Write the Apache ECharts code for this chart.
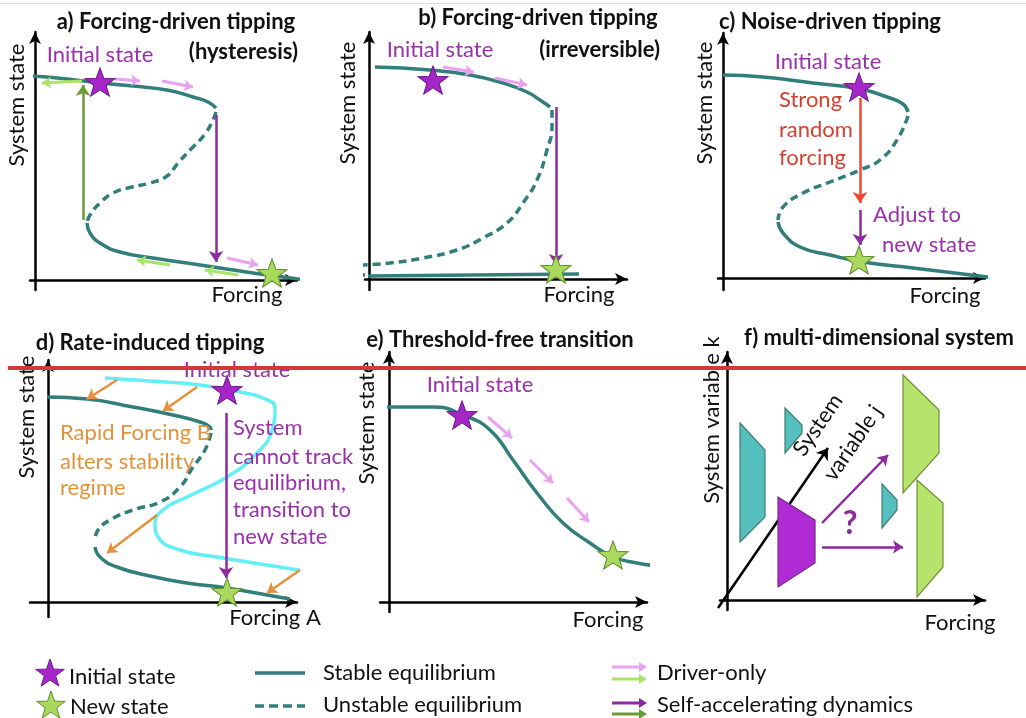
<!DOCTYPE html>
<html>
<head>
<meta charset="utf-8">
<script src="https://cdn.jsdelivr.net/npm/echarts@6/dist/echarts.min.js"></script>
<style>
  html, body { margin: 0; padding: 0; background: #fff; }
  #chart { width: 1026px; height: 718px; }
</style>
</head>
<body>
<div id="chart"></div>
<script>

// a) hysteresis
const aStableTop = [[-2,204],[32,201],[65,197],[98,194],[132,190],[158,183],[173,178],[181,172]];
const aUnstable = [[181,168],[178,160],[170,146],[157,132],[143,117],[132,104],[115,97],[97,93],[78,87],[65,77],[55,65],[52,57]];
const aStableLow = [[52,57],[55,47],[65,37],[85,28],[118,22],[152,17],[185,12],[218,7],[248,3],[270,0]];
const aInitial = [[65,198]];
const aNew = [[237,7]];
const aDriverFwd = [[[80,201],[105,199]], [[127,199],[158,193]], [[192,22],[223,15]]];
const aDriverBack = [[[47,199],[7,197]], [[135,15],[102,20]], [[203,5],[170,10]]];
const aSelfFwd = [[[181,165],[181,18]]];
const aSelfBack = [[[48,60],[48,195]]];

// b) irreversible
const bStableTop = [[6,212],[61,209],[101,204],[134,196],[158,187],[171,179],[181,172]];
const bUnstable = [[183,169],[183,152],[178,129],[168,99],[154,76],[138,56],[114,41],[88,29],[54,21],[21,16],[-6,14]];
const bUnstableTail = [[-6,14],[-28,13]];
const bStableLow = [[-1,3],[210,5]];
const bStableTail = [[-28,4],[-3,4]];
const bInitial = [[64,199]];
const bNew = [[187,10]];
const bDriverFwd = [[[74,212],[105,207]], [[126,201],[158,194]]];
const bSelfFwd = [[[187,172],[187,14]]];

// c) noise-driven
const cStableTop = [[0,203],[40,201],[90,195],[137,189],[164,181],[180,174],[185,166]];
const cUnstable = [[185,162],[174,138],[157,118],[137,108],[107,96],[80,85],[60,71],[55,58]];
const cStableLow = [[55,56],[60,45],[77,31],[107,23],[140,16],[190,10],[240,4],[272,0]];
const cInitial = [[136,191]];
const cNew = [[136,18]];
const cNoise = [[[137,180],[137,75]]];
const cSelfFwd = [[[137,68],[137,33]]];

// d) rate-induced
const dStableTop = [[-1,205],[39,203],[85,195],[125,187],[152,180],[162,175],[163,172]];
const dUnstable = [[163,169],[157,152],[145,135],[132,115],[112,100],[85,92],[62,82],[50,72],[47,62]];
const dStableLow = [[47,55],[52,45],[69,35],[102,26],[139,19],[179,14],[219,7],[242,3]];
const dShifted = [[57,224],[102,221],[152,217],[192,210],[215,204],[227,194],[224,172],[209,149],[179,125],[139,105],[115,92],[107,79],[110,65],[132,52],[169,45],[219,37],[269,29],[310,22]];
const dRateArrows = [[[69,222],[39,203]], [[149,215],[115,191]], [[109,87],[59,49]], [[252,32],[219,9]]];
const dInitial = [[179,212]];
const dNew = [[179,10]];
const dSelfFwd = [[[178,189],[178,24]]];

// e) threshold-free
const eStable = [[-2,195],[44,195],[74,187],[101,172],[124,142],[148,109],[174,79],[201,59],[224,45],[248,39],[269,36]];
const eInitial = [[73,187]];
const eNew = [[224,47]];
const eDriverFwd = [[[99,185],[123,164]], [[141,142],[164,119]], [[178,104],[200,80]]];

// f) multi-dimensional
const fAxisJ = [[[-9,-8],[101,152]]];
const fInitialShape = [[[51,103],[88,80],[88,37],[51,13]]];
const fOtherStates = [
  [[13,177],[38,150],[38,83],[13,58]],
  [[58,192],[75,175],[75,167],[58,147]],
  [[155,116],[170,100],[170,90],[155,72]]
];
const fNewStates = [
  [[176,225],[212,190],[212,147],[176,107]],
  [[190,120],[216,97],[216,33],[190,3]]
];
const fPaths = [[[95,77],[161,145]], [[95,53],[176,53]]];

const TEAL = '#327e7a';
const PURPLE = '#8c2a9e';
const PINK = '#e9a2f2';
const LGREEN = '#a8e46a';
const DGREEN = '#6c9a34';
const ORANGE = '#e3923c';
const CYAN = '#62eff6';
const RED = '#f0482e';
const TXT_PURPLE = '#9932aa';

function starPts(cx, cy, R, r) {
  const pts = [];
  for (let i = 0; i < 10; i++) {
    const a = -Math.PI / 2 + i * Math.PI / 5;
    const rad = i % 2 ? r : R;
    pts.push([cx + rad * Math.cos(a), cy + rad * Math.sin(a)]);
  }
  return pts;
}
const STAR = 'path://' + starPts(0, 0, 10, 4.1).map((p, i) => (i ? 'L' : 'M') + p[0].toFixed(2) + ' ' + p[1].toFixed(2)).join(' ') + ' Z';

const panels = [
  { ox: 35, oy: 280, x: [-5, 262], y: [-10, 248] },
  { ox: 369, oy: 279, x: [-4, 258], y: [-11, 247] },
  { ox: 723, oy: 278, x: [-5, 262], y: [-12, 245] },
  { ox: 48, oy: 602, x: [-18, 249], y: [-15, 242] },
  { ox: 389, oy: 602, x: [-9, 258], y: [-10, 250] },
  { ox: 727, oy: 600, x: [-7, 258], y: [-10, 248] }
];

const grid = [], xAxis = [], yAxis = [];
panels.forEach((p, i) => {
  grid.push({ left: p.ox + p.x[0], top: p.oy - p.y[1], width: p.x[1] - p.x[0], height: p.y[1] - p.y[0] });
  const ax = (min, max) => ({
    gridIndex: i, type: 'value', min, max,
    axisLine: { onZero: true, symbol: ['none', 'arrow'], symbolSize: [9, 12], lineStyle: { color: '#000', width: 2.5 } },
    axisTick: { show: false }, axisLabel: { show: false }, splitLine: { show: false }
  });
  xAxis.push(ax(p.x[0], p.x[1]));
  yAxis.push(ax(p.y[0], p.y[1]));
});

function curve(gi, data, color, type, width) {
  return {
    type: 'line', xAxisIndex: gi, yAxisIndex: gi, data, symbol: 'none', smooth: 0.5, clip: false, silent: true, z: 3,
    lineStyle: { color, width: width || 3.5, type: type || 'solid' }
  };
}
function stars(gi, data, fill, stroke) {
  return {
    type: 'scatter', xAxisIndex: gi, yAxisIndex: gi, data, symbol: STAR, symbolSize: [30, 28], clip: false, silent: true, z: 6,
    itemStyle: { color: fill, borderColor: stroke, borderWidth: 1, opacity: 1 }
  };
}
function arrows(gi, list, color, width, size) {
  return {
    type: 'lines', coordinateSystem: 'cartesian2d', xAxisIndex: gi, yAxisIndex: gi, clip: false, silent: true, z: 4,
    symbol: ['none', 'arrow'], symbolSize: size || 10,
    lineStyle: { color, width: width || 3, opacity: 1, curveness: 0 },
    data: list.map(c => ({ coords: c }))
  };
}
function shapes(gi, list, fill, stroke) {
  return {
    type: 'custom', coordinateSystem: 'cartesian2d', xAxisIndex: gi, yAxisIndex: gi, silent: true, z: 5,
    data: list.map((s, i) => [i, 0]),
    renderItem: (params, api) => ({
      type: 'polygon',
      shape: { points: list[api.value(0)].map(pt => api.coord(pt)) },
      style: { fill, stroke, lineWidth: 1.2 }
    })
  };
}

const series = [
  curve(0, aStableTop, TEAL), curve(0, aUnstable, TEAL, [8, 5]), curve(0, aStableLow, TEAL),
  arrows(0, aDriverFwd, PINK, 3, 9), arrows(0, aDriverBack, LGREEN, 3, 9),
  arrows(0, aSelfFwd, PURPLE, 2.5, 11), arrows(0, aSelfBack, DGREEN, 2.5, 11),
  stars(0, aInitial, '#a626c9', '#6f1a8a'), stars(0, aNew, '#a9da5e', '#5e8e2c'),

  curve(1, bStableTop, TEAL), curve(1, bUnstable, TEAL, [8, 5]), curve(1, bUnstableTail, TEAL, [3, 4]),
  curve(1, bStableLow, TEAL), curve(1, bStableTail, TEAL, [3, 4]),
  arrows(1, bDriverFwd, PINK, 3, 9), arrows(1, bSelfFwd, PURPLE, 2.5, 11),
  stars(1, bInitial, '#a626c9', '#6f1a8a'), stars(1, bNew, '#a9da5e', '#5e8e2c'),

  curve(2, cStableTop, TEAL), curve(2, cUnstable, TEAL, [8, 5]), curve(2, cStableLow, TEAL),
  arrows(2, cNoise, RED, 2.5, 11), arrows(2, cSelfFwd, PURPLE, 2.5, 11),
  stars(2, cInitial, '#a626c9', '#6f1a8a'), stars(2, cNew, '#a9da5e', '#5e8e2c'),

  curve(3, dShifted, CYAN, 'solid', 3.5),
  curve(3, dStableTop, TEAL), curve(3, dUnstable, TEAL, [8, 5]), curve(3, dStableLow, TEAL),
  arrows(3, dRateArrows, ORANGE, 2.5, 10), arrows(3, dSelfFwd, PURPLE, 2.5, 11),
  stars(3, dInitial, '#a626c9', '#6f1a8a'), stars(3, dNew, '#a9da5e', '#5e8e2c'),

  curve(4, eStable, TEAL),
  arrows(4, eDriverFwd, PINK, 3, 9),
  stars(4, eInitial, '#a626c9', '#6f1a8a'), stars(4, eNew, '#a9da5e', '#5e8e2c'),

  arrows(5, fAxisJ, '#000', 2.5, 11),
  shapes(5, fOtherStates, '#55bfbf', '#3d7f6e'),
  shapes(5, fNewStates, '#b6e36b', '#6f8f35'),
  shapes(5, fInitialShape, '#b02bd4', '#7a2a8a'),
  arrows(5, fPaths, PURPLE, 2.5, 10)
];

const F = 'Lato, "Open Sans", sans-serif';
function txt(text, x, y, o) {
  o = o || {};
  return {
    type: 'text', x, y, rotation: o.rot || 0, z: 50, silent: true,
    style: {
      text, x: 0, y: 0, fill: o.color || '#111',
      font: (o.bold ? 'bold ' : '') + (o.size || 22) + 'px ' + F,
      textAlign: o.align || 'center', textVerticalAlign: 'middle',
      align: o.align || 'center', verticalAlign: 'middle'
    }
  };
}
const V = Math.PI / 2;
const texts = [
  // titles
  txt('a) Forcing-driven tipping', 176, 22, { bold: true }),
  txt('(hysteresis)', 298, 52, { bold: true, align: 'right' }),
  txt('b) Forcing-driven tipping', 538, 18, { bold: true }),
  txt('(irreversible)', 660, 50, { bold: true, align: 'right' }),
  txt('c) Noise-driven tipping', 830, 22, { bold: true }),
  txt('d) Rate-induced tipping', 150, 343, { bold: true }),
  txt('e) Threshold-free transition', 500, 340, { bold: true }),
  txt('f) multi-dimensional system', 879, 338, { bold: true }),
  // axis names
  txt('System state', 17, 105, { rot: V }),
  txt('System state', 348, 103, { rot: V }),
  txt('System state', 705, 103, { rot: V }),
  txt('System state', 27, 417, { rot: V }),
  txt('System state', 367, 423, { rot: V }),
  txt('System variable k', 712, 420, { rot: V }),
  txt('Forcing', 247, 295), txt('Forcing', 579, 295), txt('Forcing', 945, 296),
  txt('Forcing A', 275, 618), txt('Forcing', 608, 620), txt('Forcing', 960, 623),
  // annotations
  txt('Initial state', 100, 55, { color: TXT_PURPLE }),
  txt('Initial state', 440, 50, { color: TXT_PURPLE }),
  txt('Initial state', 828, 62, { color: TXT_PURPLE }),
  txt('Initial state', 237, 370, { color: TXT_PURPLE }),
  txt('Initial state', 480, 385, { color: TXT_PURPLE }),
  txt('Strong', 779, 100, { color: '#d4402e', align: 'left' }),
  txt('random', 779, 130, { color: '#d4402e', align: 'left' }),
  txt('forcing', 779, 158, { color: '#d4402e', align: 'left' }),
  txt('Adjust to', 873, 215, { color: TXT_PURPLE, align: 'left' }),
  txt('new state', 882, 245, { color: TXT_PURPLE, align: 'left' }),
  txt('Rapid Forcing B', 60, 433, { color: ORANGE, align: 'left' }),
  txt('alters stability', 60, 462, { color: ORANGE, align: 'left' }),
  txt('regime', 60, 488, { color: ORANGE, align: 'left' }),
  txt('System', 233, 428, { color: TXT_PURPLE, align: 'left' }),
  txt('cannot track', 233, 457, { color: TXT_PURPLE, align: 'left' }),
  txt('equilibrium,', 233, 483, { color: TXT_PURPLE, align: 'left' }),
  txt('transition to', 233, 510, { color: TXT_PURPLE, align: 'left' }),
  txt('new state', 233, 537, { color: TXT_PURPLE, align: 'left' }),
  txt('?', 850, 524, { color: PURPLE, bold: true, size: 32 }),
  txt('System', 818, 425, { rot: 0.968 }),
  txt('variable j', 853, 443, { rot: 0.968 })
];

// legend
function legArrow(x1, x2, y, color) {
  return [
    { type: 'line', z: 50, silent: true, shape: { x1, y1: y, x2: x2 - 6, y2: y }, style: { stroke: color, lineWidth: 3 } },
    { type: 'polygon', z: 50, silent: true, shape: { points: [[x2 - 8, y - 5], [x2, y], [x2 - 8, y + 5]] }, style: { fill: color } }
  ];
}
const legend = [
  { type: 'polygon', z: 50, silent: true, shape: { points: starPts(50, 674, 15, 6) }, style: { fill: '#a626c9', stroke: '#6f1a8a', lineWidth: 1 } },
  { type: 'polygon', z: 50, silent: true, shape: { points: starPts(51, 706, 15, 6) }, style: { fill: '#a9da5e', stroke: '#5e8e2c', lineWidth: 1 } },
  txt('Initial state', 69, 677, { align: 'left' }),
  txt('New state', 70, 707, { align: 'left' }),
  { type: 'line', z: 50, silent: true, shape: { x1: 255, y1: 673, x2: 305, y2: 673 }, style: { stroke: TEAL, lineWidth: 3.5 } },
  { type: 'line', z: 50, silent: true, shape: { x1: 255, y1: 706, x2: 305, y2: 706 }, style: { stroke: TEAL, lineWidth: 3.5, lineDash: [9, 5] } },
  txt('Stable equilibrium', 323, 673, { align: 'left' }),
  txt('Unstable equilibrium', 323, 705, { align: 'left' }),
  ...legArrow(612, 647, 667, PINK),
  ...legArrow(612, 647, 679, LGREEN),
  ...legArrow(612, 647, 703, PURPLE),
  ...legArrow(612, 647, 714, DGREEN),
  txt('Driver-only', 657, 673, { align: 'left' }),
  txt('Self-accelerating dynamics', 657, 705, { align: 'left' })
];

const chart = echarts.init(document.getElementById('chart'), null, { renderer: 'canvas' });
chart.setOption({
  animation: false,
  backgroundColor: '#fff',
  grid, xAxis, yAxis, series,
  graphic: [
    { type: 'rect', z: 60, silent: true, shape: { x: 0, y: 3, width: 1026, height: 1 }, style: { fill: '#dddddd' } },
    ...texts,
    ...legend,
    { type: 'rect', z: 100, silent: true, shape: { x: 8, y: 366, width: 1018, height: 4 }, style: { fill: '#d23a3a' } }
  ]
});
</script>
</body>
</html>
